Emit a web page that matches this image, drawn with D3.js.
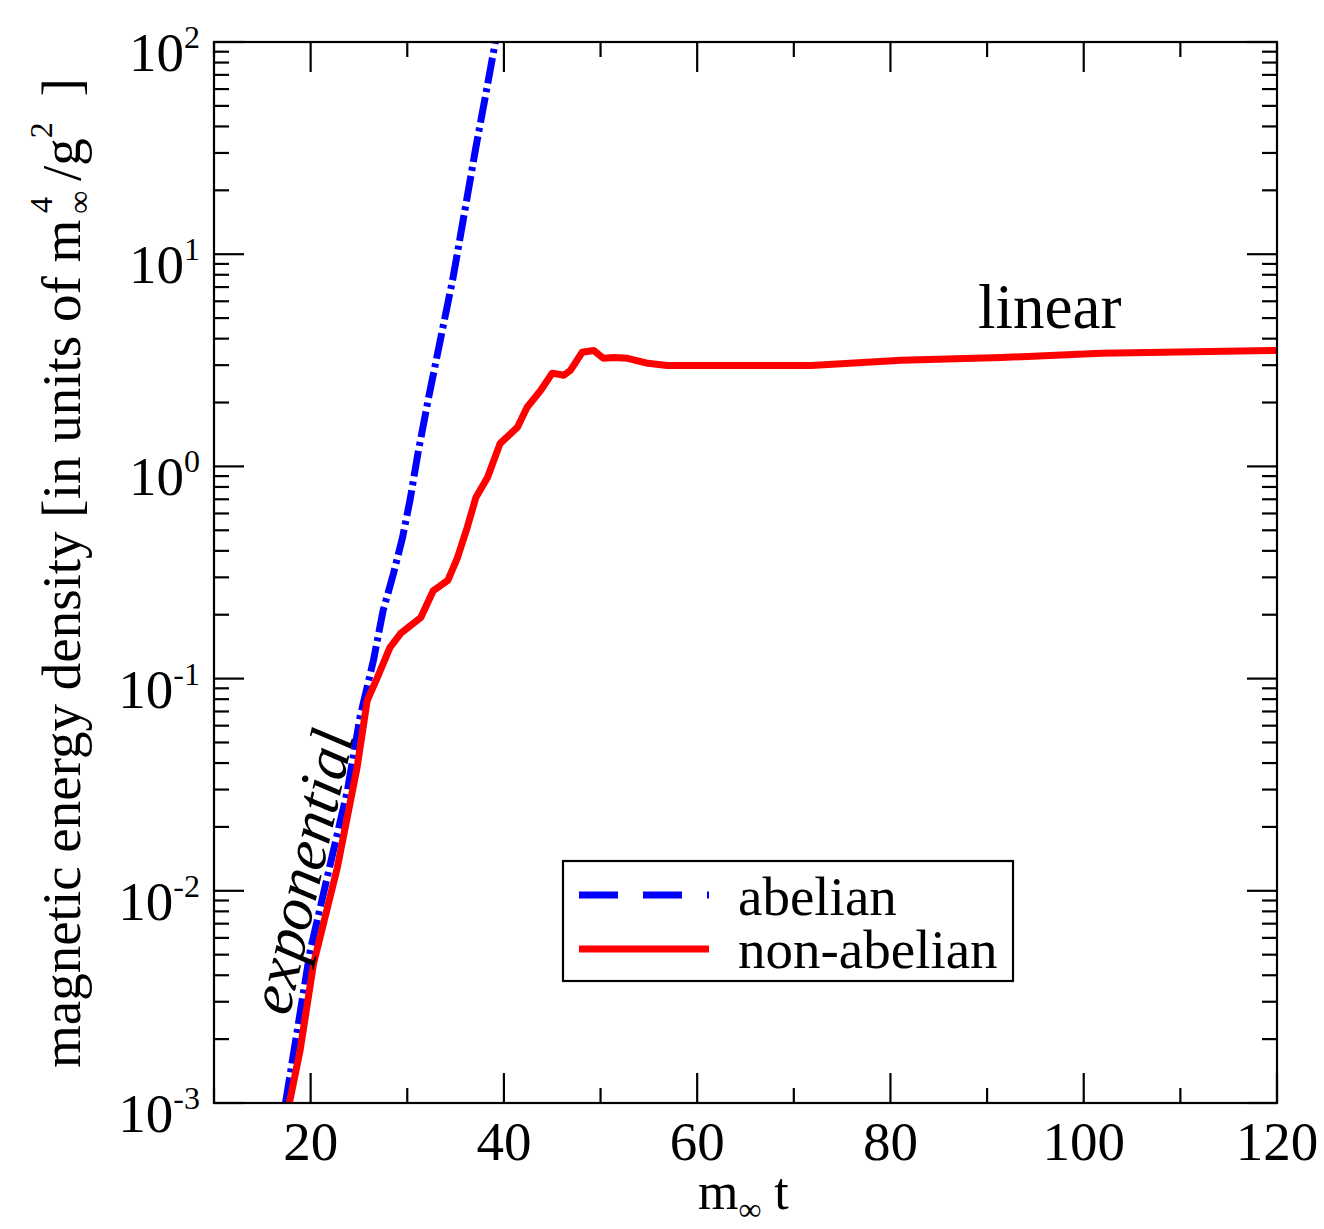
<!DOCTYPE html>
<html>
<head>
<meta charset="utf-8">
<script src="https://cdn.jsdelivr.net/npm/d3@7.9.0/dist/d3.min.js"></script>
<style>
  body { margin: 0; background: #fff; }
</style>
</head>
<body>
<div id="chart"></div>
<script>
// abelian (blue) and non-abelian (red) magnetic energy density vs m_inf t
const abelianT = [17.4, 19.95, 21.7, 23.8, 25.1, 26.5, 27.5, 28.55, 29.5, 30.3, 31.1, 32.2, 33.4, 34.7, 35.2, 37.05, 38.1, 39.2];
const abelianE = [0.001, 0.0052, 0.0115, 0.0296, 0.0655, 0.122, 0.209, 0.31, 0.46, 0.70, 1.15, 2.1, 3.9, 7.6, 10.2, 31, 56, 105];

const nonAbelianT = [17.8, 18.9, 20.3, 22.75, 24.8, 25.85, 26.9, 28.2, 29.3, 31.4, 32.7, 34.2, 35.2, 36.2, 37.1, 38.3, 39.6, 41.4, 42.4, 43.8, 45.0, 46.2, 46.9, 48.1, 49.3, 50.3, 51.4, 52.8, 54.9, 56.9, 71.8, 81.1, 91.5, 101.8, 120];
const nonAbelianE = [0.001, 0.00176, 0.00453, 0.0128, 0.038, 0.0787, 0.101, 0.140, 0.163, 0.194, 0.26, 0.29, 0.372, 0.515, 0.714, 0.887, 1.28, 1.53, 1.90, 2.28, 2.75, 2.69, 2.84, 3.45, 3.52, 3.23, 3.26, 3.23, 3.06, 2.99, 2.99, 3.16, 3.26, 3.41, 3.52];

const xTicks = [20, 40, 60, 80, 100, 120];
const xMinorTicks = [10, 30, 50, 70, 90, 110];
const yExponents = [-3, -2, -1, 0, 1, 2];
const legendLabels = ['abelian', 'non-abelian'];

const width = 1324;
const height = 1229;
const plot = { left: 214, top: 42, right: 1277, bottom: 1103 };
const serif = "'Liberation Serif', 'Times New Roman', Times, serif";

const svg = d3.select('#chart')
  .append('svg')
  .attr('width', width)
  .attr('height', height)
  .attr('font-family', serif)
  .style('display', 'block');

const x = d3.scaleLinear().domain([10, 120]).range([plot.left, plot.right]);
const y = d3.scaleLog().domain([1e-3, 1e2]).range([plot.bottom, plot.top]);

svg.append('defs').append('clipPath').attr('id', 'clip')
  .append('rect')
  .attr('x', 0).attr('y', plot.top)
  .attr('width', width).attr('height', plot.bottom - plot.top);

// minor log ticks
const yMinor = [];
for (let e = -3; e < 2; e++) {
  for (let k = 2; k <= 9; k++) yMinor.push(k * Math.pow(10, e));
}

const axes = svg.append('g').attr('stroke', '#000').attr('stroke-width', 2.2);

// left & right y ticks (inward)
yExponents.forEach(e => {
  const yy = y(Math.pow(10, e));
  axes.append('line').attr('x1', plot.left).attr('x2', plot.left + 30).attr('y1', yy).attr('y2', yy);
  axes.append('line').attr('x1', plot.right).attr('x2', plot.right - 30).attr('y1', yy).attr('y2', yy);
});
yMinor.forEach(v => {
  const yy = y(v);
  axes.append('line').attr('x1', plot.left).attr('x2', plot.left + 15).attr('y1', yy).attr('y2', yy);
  axes.append('line').attr('x1', plot.right).attr('x2', plot.right - 15).attr('y1', yy).attr('y2', yy);
});

// bottom & top x ticks (inward)
xTicks.forEach(t => {
  const xx = x(t);
  axes.append('line').attr('x1', xx).attr('x2', xx).attr('y1', plot.bottom).attr('y2', plot.bottom - 30);
  axes.append('line').attr('x1', xx).attr('x2', xx).attr('y1', plot.top).attr('y2', plot.top + 30);
});
xMinorTicks.forEach(t => {
  const xx = x(t);
  axes.append('line').attr('x1', xx).attr('x2', xx).attr('y1', plot.bottom).attr('y2', plot.bottom - 15);
  axes.append('line').attr('x1', xx).attr('x2', xx).attr('y1', plot.top).attr('y2', plot.top + 15);
});

// tick labels
svg.append('g').selectAll('text')
  .data(xTicks)
  .join('text')
  .attr('x', d => x(d))
  .attr('y', 1160)
  .attr('text-anchor', 'middle')
  .attr('font-size', 55)
  .text(d => d);

const yLab = svg.append('g');
yExponents.forEach(e => {
  const t = yLab.append('text')
    .attr('x', 200)
    .attr('y', y(Math.pow(10, e)) + 29)
    .attr('text-anchor', 'end')
    .attr('font-size', 55);
  t.append('tspan').text('10');
  t.append('tspan').attr('font-size', 32).attr('dy', -23).text(e < 0 ? '-' + (-e) : e);
});

// lines
const line = d3.line().x(d => x(d[0])).y(d => y(d[1]));
const lines = svg.append('g').attr('clip-path', 'url(#clip)');

lines.append('path')
  .datum(d3.zip(abelianT, abelianE))
  .attr('fill', 'none')
  .attr('stroke', '#0000ff')
  .attr('stroke-width', 7)
  .attr('stroke-dasharray', '26,5,4,5')
  .attr('d', line);

lines.append('path')
  .datum(d3.zip(nonAbelianT, nonAbelianE))
  .attr('fill', 'none')
  .attr('stroke', '#ff0000')
  .attr('stroke-width', 7)
  .attr('stroke-linejoin', 'round')
  .attr('d', line);

// frame
svg.append('rect')
  .attr('x', plot.left).attr('y', plot.top)
  .attr('width', plot.right - plot.left).attr('height', plot.bottom - plot.top)
  .attr('fill', 'none').attr('stroke', '#000').attr('stroke-width', 2.2);

// annotations
svg.append('text')
  .attr('x', 978).attr('y', 328)
  .attr('font-size', 63)
  .text('linear');

svg.append('text')
  .attr('transform', 'translate(289,1017) rotate(-77)')
  .attr('font-size', 62)
  .attr('font-style', 'italic')
  .text('exponential');

// axis titles
const xt = svg.append('text').attr('x', 698).attr('y', 1209).attr('font-size', 52);
xt.append('tspan').text('m');
xt.append('tspan').attr('font-size', 32).attr('dy', 11).text('∞');
xt.append('tspan').attr('dy', -11).text(' t');

const yt = svg.append('text')
  .attr('transform', 'translate(80,1068) rotate(-90)')
  .attr('font-size', 55);
yt.append('tspan').text('magnetic energy density [in units of m');
yt.append('tspan').attr('font-size', 32).attr('dx', 6).attr('dy', 10).text('∞');
yt.append('tspan').attr('font-size', 32).attr('dx', -22).attr('dy', -38).text('4');
yt.append('tspan').attr('dx', 16).attr('dy', 28).text('/g');
yt.append('tspan').attr('font-size', 32).attr('dy', -28).text('2');
yt.append('tspan').attr('dx', 12).attr('dy', 28).text(' ]');

// legend
const lg = svg.append('g');
lg.append('rect')
  .attr('x', 563).attr('y', 861).attr('width', 450).attr('height', 120)
  .attr('fill', '#fff').attr('stroke', '#000').attr('stroke-width', 2.2);
lg.append('line')
  .attr('x1', 579).attr('x2', 709).attr('y1', 895).attr('y2', 895)
  .attr('stroke', '#0000ff').attr('stroke-width', 7).attr('stroke-dasharray', '39,25');
lg.append('line')
  .attr('x1', 579).attr('x2', 709).attr('y1', 949).attr('y2', 949)
  .attr('stroke', '#ff0000').attr('stroke-width', 7);
lg.selectAll('text')
  .data(legendLabels)
  .join('text')
  .attr('x', 738)
  .attr('y', (d, i) => 915 + i * 53)
  .attr('font-size', 55)
  .text(d => d);
</script>
</body>
</html>
